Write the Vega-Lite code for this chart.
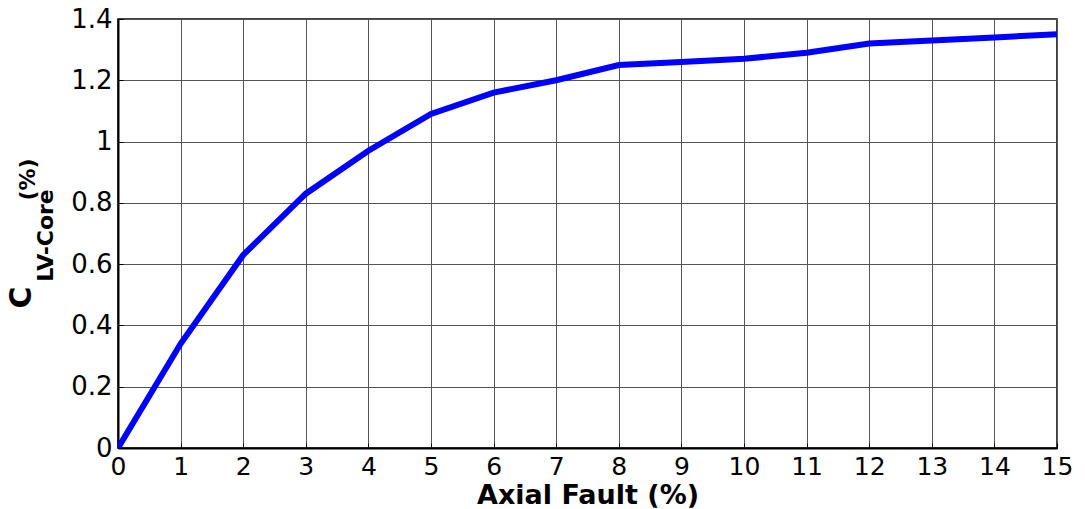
{
  "$schema": "https://vega.github.io/schema/vega-lite/v6.json",
  "autosize": "none",
  "width": 939,
  "height": 429,
  "padding": {"left": 118, "top": 19, "right": 28, "bottom": 61},
  "background": "white",
  "config": {
    "view": {"stroke": "black", "strokeWidth": 1.5},
    "font": "DejaVu Sans"
  },
  "data": {
    "values": [
      {"fault": 0, "c": 0},
      {"fault": 1, "c": 0.34},
      {"fault": 2, "c": 0.63},
      {"fault": 3, "c": 0.83},
      {"fault": 4, "c": 0.97},
      {"fault": 5, "c": 1.09},
      {"fault": 6, "c": 1.16},
      {"fault": 7, "c": 1.20},
      {"fault": 8, "c": 1.25},
      {"fault": 9, "c": 1.26},
      {"fault": 10, "c": 1.27},
      {"fault": 11, "c": 1.29},
      {"fault": 12, "c": 1.32},
      {"fault": 13, "c": 1.33},
      {"fault": 14, "c": 1.34},
      {"fault": 15, "c": 1.35}
    ]
  },
  "encoding": {
    "x": {
      "field": "fault",
      "type": "quantitative",
      "scale": {"domain": [0, 15], "nice": false, "zero": true},
      "axis": {
        "title": "Axial Fault (%)",
        "values": [0,1,2,3,4,5,6,7,8,9,10,11,12,13,14,15],
        "format": "d",
        "grid": true,
        "gridColor": "#555555",
        "gridOpacity": 1,
        "gridWidth": 1,
        "domainColor": "black",
        "domainWidth": 2,
        "tickColor": "black",
        "tickSize": -5,
        "labelFontSize": 25,
        "labelColor": "black",
        "labelPadding": 11,
        "labelFont": "DejaVu Sans",
        "labelOverlap": false,
        "labelFlush": false,
        "titleFont": "DejaVu Sans",
        "titleFontSize": 27,
        "titleFontWeight": "bold",
        "titleColor": "black",
        "titlePadding": 3
      }
    }
  },
  "layer": [
    {
      "mark": {"type": "line", "color": "#0000FF", "strokeWidth": 6, "clip": true},
      "encoding": {
        "y": {
          "field": "c",
          "type": "quantitative",
          "scale": {"domain": [0, 1.4], "nice": false},
          "axis": {
            "title": "C",
            "orient": "left",
            "values": [0, 0.2, 0.4, 0.6, 0.8, 1, 1.2, 1.4],
            "format": "~g",
            "grid": true,
            "gridColor": "#555555",
            "gridOpacity": 1,
            "gridWidth": 1,
            "domainColor": "black",
            "domainWidth": 2,
            "tickColor": "black",
            "tickSize": -5,
            "labelFontSize": 26,
            "labelColor": "black",
            "labelPadding": 11,
            "labelFont": "DejaVu Sans",
            "labelOverlap": false,
            "labelFlush": false,
            "titleFont": "DejaVu Sans",
            "titleFontSize": 30,
            "titleFontWeight": "bold",
            "titleColor": "black",
            "titleAngle": -90,
            "titleAlign": "center",
            "titleBaseline": "middle",
            "titleX": -97,
            "titleY": 278
          }
        }
      }
    },
    {
      "mark": {"type": "line", "opacity": 0},
      "encoding": {
        "y": {
          "field": "c",
          "type": "quantitative",
          "scale": {"domain": [0, 1.4], "nice": false},
          "axis": {
            "title": "LV-Core",
            "orient": "left",
            "labels": false,
            "ticks": false,
            "domain": false,
            "grid": false,
            "titleFont": "DejaVu Sans",
            "titleFontSize": 22,
            "titleFontWeight": "bold",
            "titleColor": "black",
            "titleAngle": -90,
            "titleAlign": "center",
            "titleBaseline": "middle",
            "titleX": -73,
            "titleY": 216
          }
        }
      }
    },
    {
      "mark": {"type": "line", "opacity": 0},
      "encoding": {
        "y": {
          "field": "c",
          "type": "quantitative",
          "scale": {"domain": [0, 1.4], "nice": false},
          "axis": {
            "title": "(%)",
            "orient": "left",
            "labels": false,
            "ticks": false,
            "domain": false,
            "grid": false,
            "titleFont": "DejaVu Sans",
            "titleFontSize": 22,
            "titleFontWeight": "bold",
            "titleColor": "black",
            "titleAngle": -90,
            "titleAlign": "center",
            "titleBaseline": "middle",
            "titleX": -91,
            "titleY": 160
          }
        }
      }
    }
  ],
  "resolve": {"scale": {"y": "independent"}, "axis": {"y": "independent"}}
}
